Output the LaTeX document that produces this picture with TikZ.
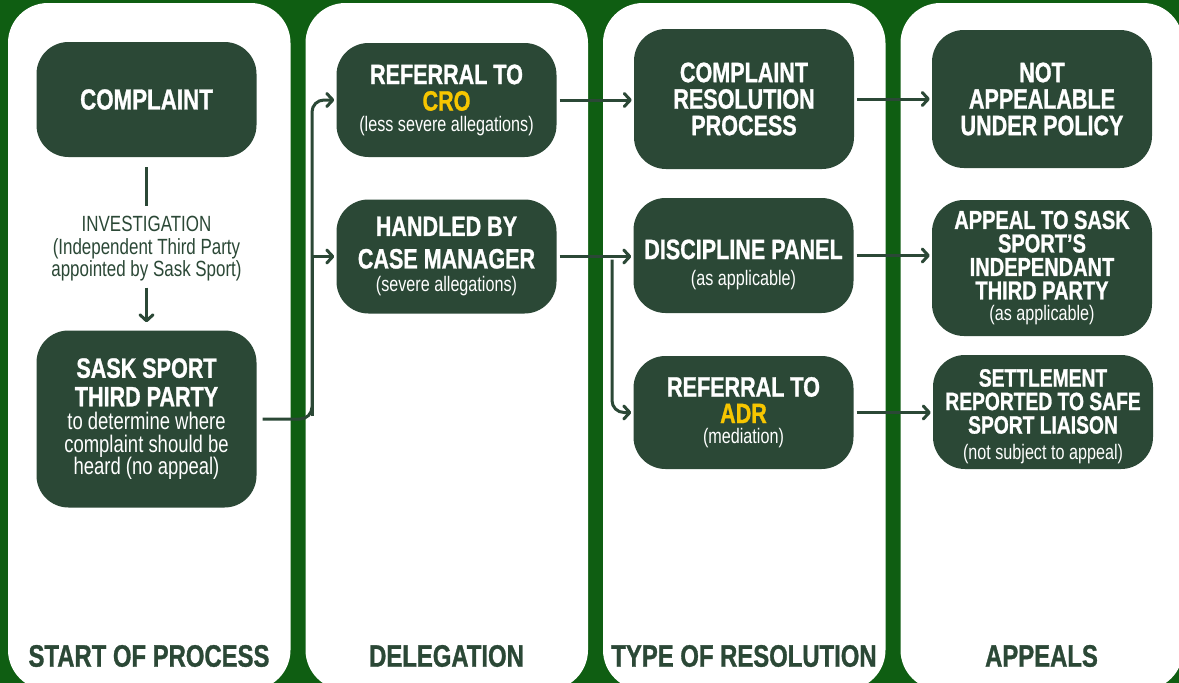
\documentclass[tikz,border=0pt]{standalone}
\usepackage{fontspec}
\setmainfont{Liberation Sans}[FakeStretch=0.77, BoldFeatures={FakeBold=1}]
\usetikzlibrary{arrows.meta}
\definecolor{bggreen}{HTML}{0F5E12}
\definecolor{boxgreen}{HTML}{2B4836}
\definecolor{gold}{HTML}{F7C600}
\newcommand{\subline}[1]{\mdseries\fontsize{21}{19}\selectfont #1}
\newcommand{\textline}[1]{\mdseries\fontsize{24}{21.5}\selectfont #1}

\begin{document}
\begin{tikzpicture}[x=1pt, y=-1pt,
                    box/.style={fill=boxgreen, rounded corners=32pt, text=white,
                                align=center, minimum width=220pt, inner sep=0pt,
                                font=\bfseries\fontsize{28}{26.5}\selectfont},
                    flow/.style={draw=boxgreen, line width=3pt, rounded corners=12pt,
                                 -{Straight Barb[round, length=6pt, width=13pt]},
                                 shorten <=3pt, shorten >=2pt},
                    head/.style={text=boxgreen, inner sep=0pt,
                                 font=\bfseries\fontsize{31}{31}\selectfont}]
                      \useasboundingbox (0,0) rectangle (1179,683);
                      \fill[bggreen] (0,0) rectangle (1179,683);
                      \foreach \i in {0,...,3} {
                              \fill[white, rounded corners=40pt] ({8+297.5*\i},3) rectangle ({290.5+297.5*\i},690);
                          }

                      \node[box, minimum height=115pt, font=\bfseries\fontsize{29}{28}\selectfont] (complaint) at (146.5,99.5) {COMPLAINT};
                      \node[text=boxgreen, align=center, inner sep=0pt, font=\fontsize{22}{22.5}\selectfont] (invest) at (146.5,249)
                          {INVESTIGATION\\(Independent Third Party\\appointed by Sask Sport)};
                      \node[box, minimum height=177pt] (sask) at (146.5,419)
                          {SASK SPORT\\[2pt]THIRD PARTY\\[-3pt]\textline{to determine where}\\[-4pt]\textline{complaint should be}\\[-4pt]\textline{heard (no appeal)}};

                      \node[box, minimum height=114pt] (cro) at (446.5,100) {REFERRAL TO\\\textcolor{gold}{CRO}\\[-6pt]\subline{(less severe allegations)}};
                      \node[box, minimum height=114pt] (handled) at (446.5,256.5) {HANDLED BY\\[6pt]CASE MANAGER\\[-3pt]\subline{(severe allegations)}};

                      \node[box, minimum height=140pt] (crp) at (744,99) {COMPLAINT\\RESOLUTION\\PROCESS};
                      \node[box, minimum height=115pt] (discipline) at (743.5,255.5) {\rule{0pt}{38pt}DISCIPLINE PANEL\\[0pt]\subline{(as applicable)}};
                      \node[box, minimum height=113pt] (adr) at (743.5,412.5) {REFERRAL TO\\\textcolor{gold}{ADR}\\[-6pt]\subline{(mediation)}};

                      \node[box, minimum height=138pt] (notapp) at (1042,99) {NOT\\APPEALABLE\\UNDER POLICY};
                      \node[box, minimum height=136pt, font=\bfseries\fontsize{26}{23.5}\selectfont] (appeal) at (1042,268)
                          {APPEAL TO SASK\\SPORT’S\\INDEPENDANT\\THIRD PARTY\\[-2pt]\subline{(as applicable)}};
                      \node[box, minimum height=114pt, font=\bfseries\fontsize{25}{23.5}\selectfont] (settle) at (1043,412)
                          {\rule{0pt}{26pt}SETTLEMENT\\REPORTED TO SAFE\\SPORT LIAISON\\[2pt]\subline{(not subject to appeal)}};

                      \foreach \i/\t in {0/START OF PROCESS, 1/DELEGATION, 2/TYPE OF RESOLUTION, 3/APPEALS} {
                              \node[head] (head\i) at ({149+297.5*\i},656) {\t};
                          }

                      \coordinate (fork1) at (312,419);
                      \coordinate (fork2) at (612,256.5);

                      \draw[flow, -, shorten <=10pt, shorten >=10pt] (complaint) -- (invest);
                      \draw[flow, shorten <=6pt, shorten >=8pt] (invest) -- (sask);
                      \draw[flow, shorten <=6pt] (sask.east) -- (fork1) |- (cro.west);
                      \draw[flow, sharp corners] (fork1) |- (handled.west);
                      \draw[flow] (handled.east) -- (handled.east -| discipline.west);
                      \draw[flow] (fork2) |- (adr.west);
                      \foreach \i/\j in {cro/crp, crp/notapp, discipline/appeal, adr/settle} {
                              \draw[flow] (\i.east) -- (\i.east -| \j.west);
                          }
                  \end{tikzpicture}
\end{document}
